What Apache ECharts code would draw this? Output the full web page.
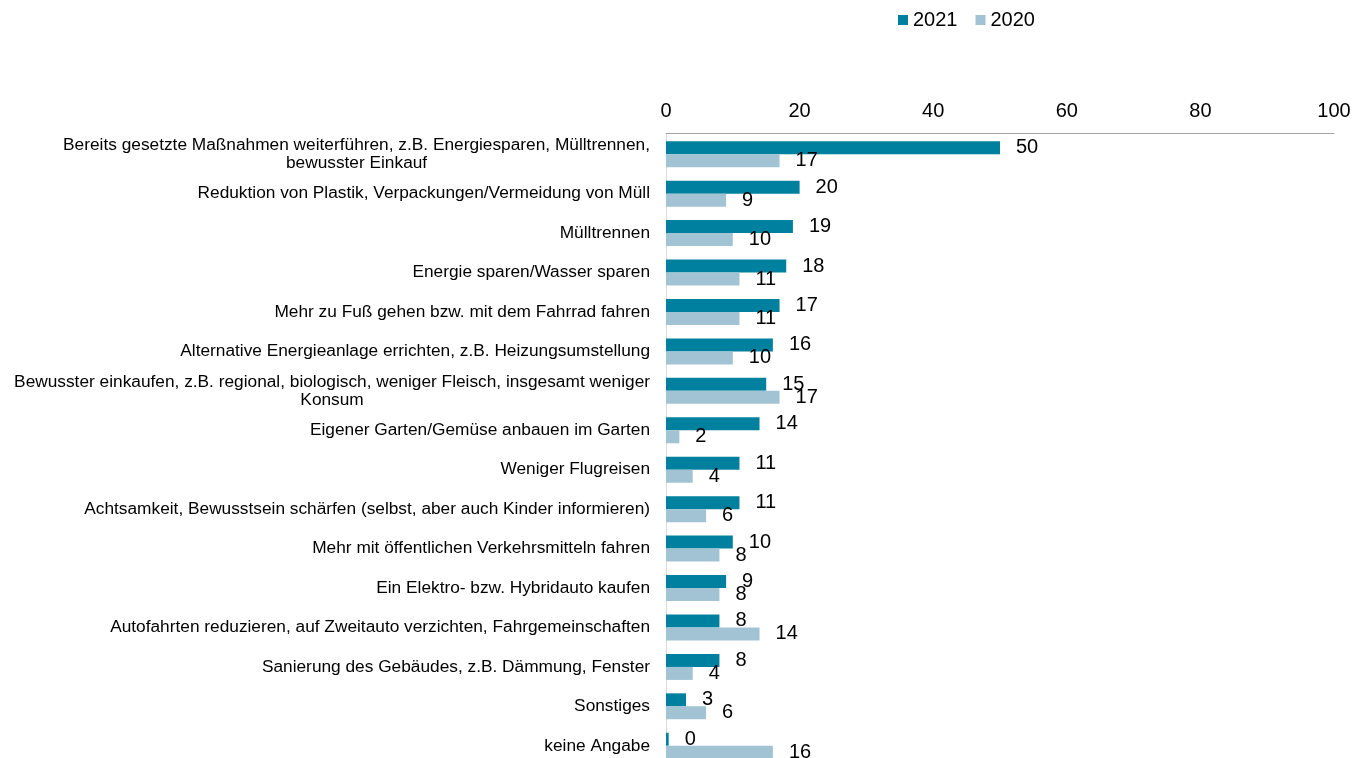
<!DOCTYPE html>
<html><head><meta charset="utf-8">
<script src="https://cdn.jsdelivr.net/npm/echarts@6/dist/echarts.min.js"></script>
<style>html,body{margin:0;padding:0;background:#fff;overflow:hidden}#c{width:1354px;height:780px}</style>
</head><body><div id="c"></div>
<script>
const categories = [
  "Bereits gesetzte Maßnahmen weiterführen, z.B. Energiesparen, Mülltrennen,\nbewusster Einkauf",
  "Reduktion von Plastik, Verpackungen/Vermeidung von Müll",
  "Mülltrennen",
  "Energie sparen/Wasser sparen",
  "Mehr zu Fuß gehen bzw. mit dem Fahrrad fahren",
  "Alternative Energieanlage errichten, z.B. Heizungsumstellung",
  "Bewusster einkaufen, z.B. regional, biologisch, weniger Fleisch, insgesamt weniger\nKonsum",
  "Eigener Garten/Gemüse anbauen im Garten",
  "Weniger Flugreisen",
  "Achtsamkeit, Bewusstsein schärfen (selbst, aber auch Kinder informieren)",
  "Mehr mit öffentlichen Verkehrsmitteln fahren",
  "Ein Elektro- bzw. Hybridauto kaufen",
  "Autofahrten reduzieren, auf Zweitauto verzichten, Fahrgemeinschaften",
  "Sanierung des Gebäudes, z.B. Dämmung, Fenster",
  "Sonstiges",
  "keine Angabe"
];
const values2021 = [50, 20, 19, 18, 17, 16, 15, 14, 11, 11, 10, 9, 8, 8, 3, 0.4];
const values2020 = [17, 9, 10, 11, 11, 10, 17, 2, 4, 6, 8, 8, 14, 4, 6, 16];
const seriesNames = ["2021", "2020"];
const xTicks = [0, 20, 40, 60, 80, 100];

const FONT = "Liberation Sans, Arial, sans-serif";
const chart = echarts.init(document.getElementById('c'), null, {renderer: 'canvas'});
const labelCfg = {
  show: true, position: 'right', distance: 16,
  fontFamily: FONT, fontSize: 20, color: '#000',
  formatter: p => Math.round(p.value)
};
chart.setOption({
  animation: false,
  textStyle: {fontFamily: FONT},
  legend: {
    data: seriesNames, top: 5, left: 893, icon: 'rect', itemWidth: 10, itemHeight: 10,
    itemGap: 18, textStyle: {fontSize: 20, color: '#000', fontFamily: FONT}
  },
  grid: {left: 666, right: 20, top: 134.5, height: 631, containLabel: false},
  xAxis: {
    type: 'value', position: 'top', offset: 1.5, min: xTicks[0], max: xTicks[xTicks.length - 1], interval: 20,
    axisLine: {show: true, lineStyle: {color: '#a6a6a6', width: 1}},
    axisTick: {show: false}, splitLine: {show: false},
    axisLabel: {fontSize: 20, color: '#000', fontFamily: FONT, margin: 12}
  },
  yAxis: {
    type: 'category', inverse: true, data: categories,
    axisLine: {show: true, lineStyle: {color: '#d9d9d9', width: 1}},
    axisTick: {show: false},
    axisLabel: {
      fontSize: 17.3, color: '#000', fontFamily: FONT, margin: 16, align: 'right', lineHeight: 18,
      formatter: v => v.indexOf('\n') >= 0 ? v.split('\n').map(s => '{c|' + s + '}').join('\n') : v,
      rich: {c: {align: 'center', fontSize: 17.3, color: '#000', fontFamily: FONT, lineHeight: 18}}
    }
  },
  series: [
    {name: seriesNames[0], type: 'bar', data: values2021, barGap: '0%', barCategoryGap: '34%',
     itemStyle: {color: '#00809f'}, label: labelCfg},
    {name: seriesNames[1], type: 'bar', data: values2020, barGap: '0%', barCategoryGap: '34%',
     itemStyle: {color: '#a1c3d3'}, label: labelCfg}
  ]
});
</script></body></html>
